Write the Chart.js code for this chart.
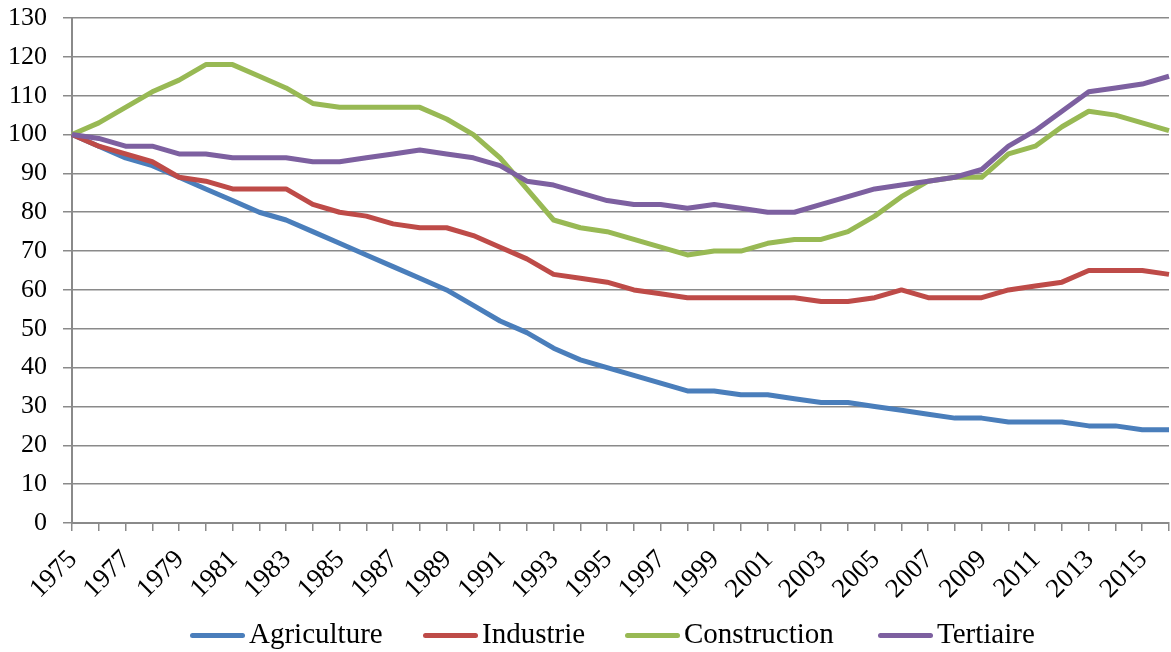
<!DOCTYPE html>
<html>
<head>
<meta charset="utf-8">
<script src="https://cdn.jsdelivr.net/npm/chart.js@4"></script>
<style>
  html, body { margin: 0; padding: 0; background: #fff; }
  #wrap { position: relative; width: 1171px; height: 652px; }
  #c { position: absolute; left: 0; top: 0; }
  #legend { position: absolute; left: 0; top: 617px; width: 1171px; height: 32px;
            font-family: "Liberation Serif", serif; font-size: 29px; color: #000; }
  .item { position: absolute; top: 0; white-space: nowrap; line-height: 32px; }
  .swatch { display: inline-block; width: 55px; height: 5px; border-radius: 3px; vertical-align: middle; margin-right: 4px; position: relative; top: -1px; }
</style>
</head>
<body>
<div id="wrap">
  <canvas id="c" width="1171" height="652"></canvas>
  <div id="legend"></div>
</div>
<script>
const years = ["1975","1976","1977","1978","1979","1980","1981","1982","1983","1984","1985","1986","1987","1988","1989","1990","1991","1992","1993","1994","1995","1996","1997","1998","1999","2000","2001","2002","2003","2004","2005","2006","2007","2008","2009","2010","2011","2012","2013","2014","2015","2016"];

const agriculture  = [100,97,94,92,89,86,83,80,78,75,72,69,66,63,60,56,52,49,45,42,40,38,36,34,34,33,33,32,31,31,30,29,28,27,27,26,26,26,25,25,24,24];
const industrie    = [100,97,95,93,89,88,86,86,86,82,80,79,77,76,76,74,71,68,64,63,62,60,59,58,58,58,58,58,57,57,58,60,58,58,58,60,61,62,65,65,65,64];
const construction = [100,103,107,111,114,118,118,115,112,108,107,107,107,107,104,100,94,86,78,76,75,73,71,69,70,70,72,73,73,75,79,84,88,89,89,95,97,102,106,105,103,101];
const tertiaire    = [100,99,97,97,95,95,94,94,94,93,93,94,95,96,95,94,92,88,87,85,83,82,82,81,82,81,80,80,82,84,86,87,88,89,91,97,101,106,111,112,113,115];

const seriesNames  = ["Agriculture","Industrie","Construction","Tertiaire"];
const seriesColors = ["#4A7EBB","#BE4B48","#98B954","#7D60A0"];
const yTicks = { min: 0, max: 130, step: 10 };

const seriesData = [agriculture, industrie, construction, tertiaire];
const gridColor = "#8a8a8a";
const yFont = { family: "'Liberation Serif', serif", size: 26 };
const xFont = { family: "'Liberation Serif', serif", size: 27 };

const datasets = seriesNames.map((name, i) => ({
  label: name,
  data: seriesData[i],
  borderColor: seriesColors[i],
  backgroundColor: seriesColors[i],
  borderWidth: 5,
  pointRadius: 0,
  tension: 0,
  fill: false,
  borderJoinStyle: "round",
  order: 4 - i
}));

new Chart(document.getElementById("c"), {
  type: "line",
  data: { labels: years, datasets },
  options: {
    responsive: false,
    animation: false,
    devicePixelRatio: 1,
    layout: { padding: { top: 18, right: 2, left: 0, bottom: 0 } },
    plugins: { legend: { display: false }, tooltip: { enabled: false } },
    scales: {
      x: {
        type: "category",
        offset: false,
        grid: { display: true, drawOnChartArea: false, drawTicks: true, tickLength: 8, color: gridColor, lineWidth: 1.5 },
        border: { display: true, color: gridColor, width: 2 },
        ticks: {
          autoSkip: false, maxRotation: 45, minRotation: 45, padding: 13, labelOffset: 1,
          color: "#000", font: xFont,
          callback: function(v, idx) { return idx % 2 === 0 ? this.getLabelForValue(v) : ""; }
        },
        afterFit: (s) => { s.height = 129; s.paddingLeft = 0; s.paddingRight = 0; }
      },
      y: {
        min: yTicks.min, max: yTicks.max,
        grid: { color: gridColor, lineWidth: 1.5, drawTicks: true, tickLength: 9 },
        border: { display: true, color: gridColor, width: 2 },
        ticks: { stepSize: yTicks.step, padding: 16, color: "#000", font: yFont },
        afterFit: (s) => { s.width = 72; s.paddingTop = 0; s.paddingBottom = 0; }
      }
    }
  }
});

// HTML legend
const legendPos = [190, 423, 625, 878];
const lg = document.getElementById("legend");
seriesNames.forEach((n, i) => {
  const d = document.createElement("div");
  d.className = "item";
  d.style.left = legendPos[i] + "px";
  d.innerHTML = '<span class="swatch" style="background:' + seriesColors[i] + '"></span>' + n;
  lg.appendChild(d);
});
</script>
</body>
</html>
